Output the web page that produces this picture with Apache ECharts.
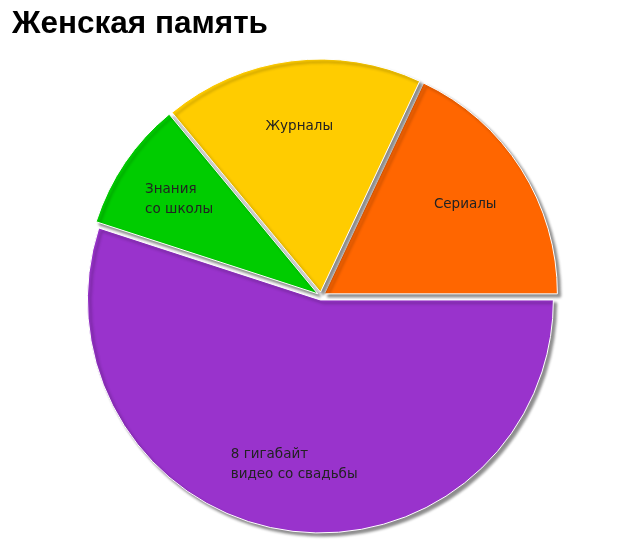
<!DOCTYPE html>
<html>
<head>
<meta charset="utf-8">
<script src="https://cdn.jsdelivr.net/npm/echarts@6/dist/echarts.min.js"></script>
<style>
  html, body { margin: 0; padding: 0; background: #fff; }
  #chart { width: 640px; height: 540px; }
</style>
</head>
<body>
<div id="chart"></div>
<script>
// данные диаграммы
const categories = ['Сериалы', 'Журналы', 'Знания\nсо школы', '8 гигабайт\nвидео со свадьбы']
const values = [18, 18, 9, 55]
const colors = ['#ff6600', '#ffcc00', '#00cc00', '#9933cc']

const labelFont = '13.5px "DejaVu Sans"'

const myChart = echarts.init(document.getElementById('chart'))

// ширина самой длинной строки подписи
const ctx = document.createElement('canvas').getContext('2d')
ctx.font = labelFont
const textWidth = (s) => Math.ceil(Math.max(...s.split('\n').map(l => ctx.measureText(l).width)))

const pieData = categories.map((name, i) => ({
  name: name,
  value: values[i],
  selected: true,
  itemStyle: { color: colors[i] }
}))

// прозрачный слой только для подписей, строки выровнены влево
const labelData = categories.map((name, i) => ({
  name: name,
  value: values[i],
  selected: true,
  label: {
    formatter: name.split('\n').map(l => '{a|' + l + '}').join('\n'),
    rich: {
      a: {
        width: textWidth(name),
        align: 'left',
        color: '#222',
        fontFamily: 'DejaVu Sans',
        fontSize: 13.5,
        lineHeight: 20
      }
    }
  }
}))

myChart.setOption({
  animation: false,
  title: {
    text: 'Женская память',
    left: 7,
    top: 3,
    textStyle: {
      fontFamily: 'Liberation Sans',
      fontWeight: 'bold',
      fontSize: 31.5,
      color: '#000'
    }
  },
  series: [
    {
      type: 'pie',
      center: [321, 296],
      radius: [0, 233],
      startAngle: 0,
      clockwise: false,
      selectedMode: 'multiple',
      selectedOffset: 4,
      silent: true,
      label: { show: false },
      labelLine: { show: false },
      itemStyle: {
        borderColor: '#fff',
        borderWidth: 1,
        shadowColor: 'rgba(0,0,0,0.45)',
        shadowBlur: 3,
        shadowOffsetX: 3,
        shadowOffsetY: 3
      },
      data: pieData
    },
    {
      type: 'pie',
      center: [321, 296],
      radius: [95, 233],
      startAngle: 0,
      clockwise: false,
      selectedMode: 'multiple',
      selectedOffset: 4,
      silent: true,
      itemStyle: { color: 'rgba(0,0,0,0)' },
      label: {
        show: true,
        position: 'inside',
        color: '#222',
        fontFamily: 'DejaVu Sans',
        fontSize: 13.5,
        lineHeight: 20
      },
      labelLine: { show: false },
      data: labelData
    }
  ]
})
</script>
</body>
</html>
